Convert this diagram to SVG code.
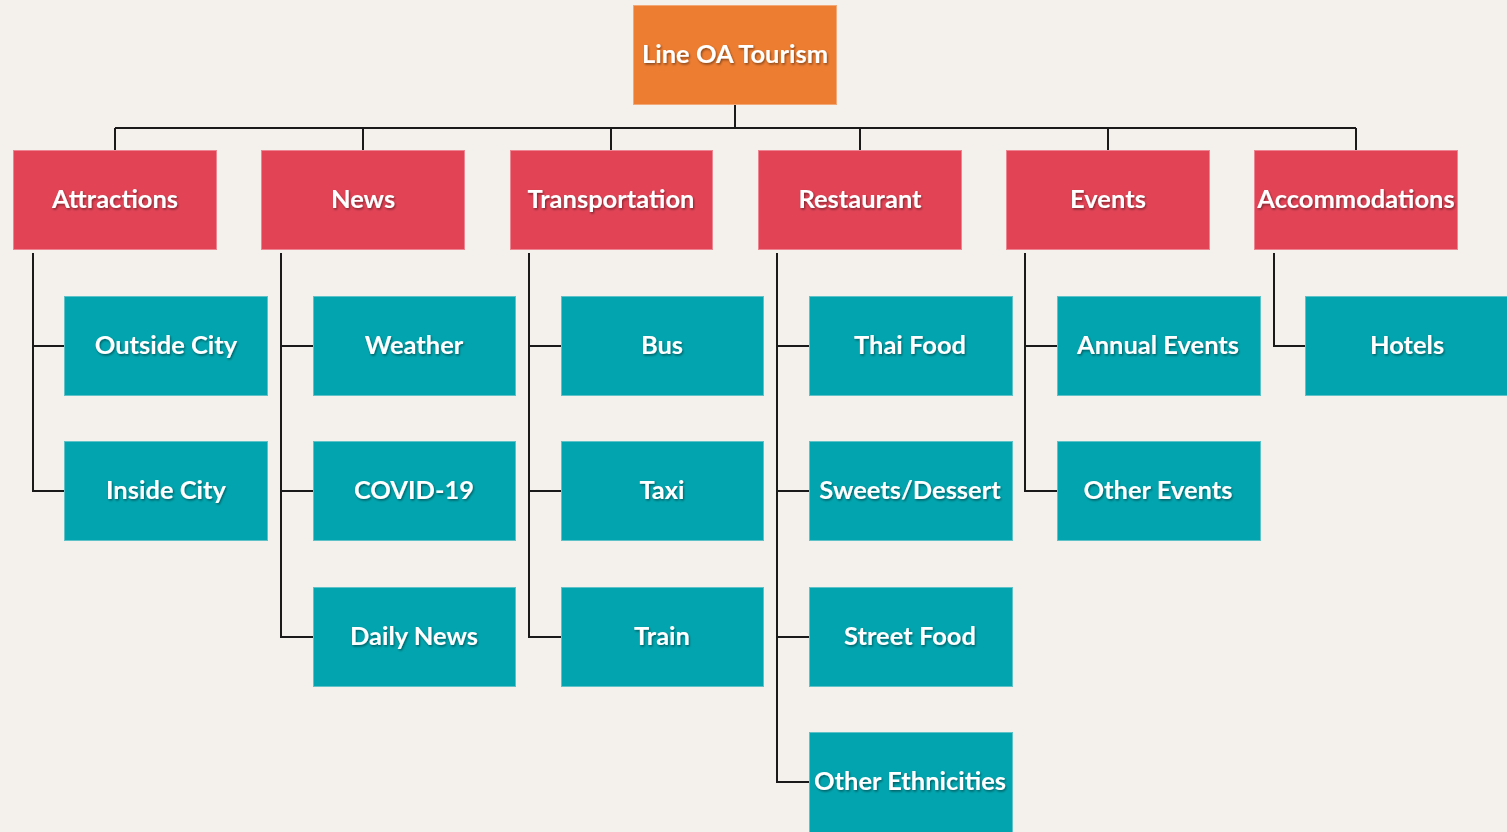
<svg xmlns="http://www.w3.org/2000/svg" width="1507" height="832" viewBox="0 0 1507 832">
  <defs>
    <filter id="shadow" x="-10%" y="-30%" width="120%" height="160%">
      <feDropShadow dx="1" dy="1.5" stdDeviation="1" flood-color="#000" flood-opacity="0.45"/>
    </filter>
    <style>
      .root { fill: #ED7D31; stroke: #F3A878; stroke-width: 1; }
      .cat { fill: #E24456; stroke: #EC8591; stroke-width: 1; }
      .leaf { fill: #02A5AF; stroke: #5FC2C8; stroke-width: 1; }
      .label { font-family: Lato, "Open Sans", "Liberation Sans", sans-serif; font-weight: bold; font-size: 25.5px; fill: #FFFFFF; text-anchor: middle; dominant-baseline: central; filter: url(#shadow); }
      .wire { fill: none; stroke: #1A1A1A; stroke-width: 2; }
    </style>
  </defs>
  <rect width="1507" height="832" fill="#F4F1EC"/>

  <g id="connectors">
    <path class="wire" d="M735 105 V128 M115 128 H1356 M115 128 V150 M363 128 V150 M611 128 V150 M860 128 V150 M1108 128 V150 M1356 128 V150"/>
    <path class="wire" d="M33 253 V491 H64 M33 346 H64"/>
    <path class="wire" d="M281 253 V637 H313 M281 346 H313 M281 491 H313"/>
    <path class="wire" d="M529 253 V637 H561 M529 346 H561 M529 491 H561"/>
    <path class="wire" d="M777 253 V782 H809 M777 346 H809 M777 491 H809 M777 637 H809"/>
    <path class="wire" d="M1025 253 V491 H1057 M1025 346 H1057"/>
    <path class="wire" d="M1274 253 V346 H1305"/>
  </g>

  <g id="root"><rect class="root" x="633.5" y="5.5" width="203" height="99"/><text class="label" x="735" y="53">Line OA Tourism</text></g>

  <g id="attractions"><rect class="cat" x="13.5" y="150.5" width="203" height="99"/><text class="label" x="115" y="198">Attractions</text></g>
  <g id="news"><rect class="cat" x="261.5" y="150.5" width="203" height="99"/><text class="label" x="363" y="198">News</text></g>
  <g id="transportation"><rect class="cat" x="510.5" y="150.5" width="202" height="99"/><text class="label" x="611" y="198">Transportation</text></g>
  <g id="restaurant"><rect class="cat" x="758.5" y="150.5" width="203" height="99"/><text class="label" x="860" y="198">Restaurant</text></g>
  <g id="events"><rect class="cat" x="1006.5" y="150.5" width="203" height="99"/><text class="label" x="1108" y="198">Events</text></g>
  <g id="accommodations"><rect class="cat" x="1254.5" y="150.5" width="203" height="99"/><text class="label" x="1356" y="198">Accommodations</text></g>

  <g id="outside-city"><rect class="leaf" x="64.5" y="296.5" width="203" height="99"/><text class="label" x="166" y="344">Outside City</text></g>
  <g id="inside-city"><rect class="leaf" x="64.5" y="441.5" width="203" height="99"/><text class="label" x="166" y="489">Inside City</text></g>

  <g id="weather"><rect class="leaf" x="313.5" y="296.5" width="202" height="99"/><text class="label" x="414" y="344">Weather</text></g>
  <g id="covid-19"><rect class="leaf" x="313.5" y="441.5" width="202" height="99"/><text class="label" x="414" y="489">COVID-19</text></g>
  <g id="daily-news"><rect class="leaf" x="313.5" y="587.5" width="202" height="99"/><text class="label" x="414" y="635">Daily News</text></g>

  <g id="bus"><rect class="leaf" x="561.5" y="296.5" width="202" height="99"/><text class="label" x="662" y="344">Bus</text></g>
  <g id="taxi"><rect class="leaf" x="561.5" y="441.5" width="202" height="99"/><text class="label" x="662" y="489">Taxi</text></g>
  <g id="train"><rect class="leaf" x="561.5" y="587.5" width="202" height="99"/><text class="label" x="662" y="635">Train</text></g>

  <g id="thai-food"><rect class="leaf" x="809.5" y="296.5" width="203" height="99"/><text class="label" x="910" y="344">Thai Food</text></g>
  <g id="sweets-dessert"><rect class="leaf" x="809.5" y="441.5" width="203" height="99"/><text class="label" x="910" y="489">Sweets/Dessert</text></g>
  <g id="street-food"><rect class="leaf" x="809.5" y="587.5" width="203" height="99"/><text class="label" x="910" y="635">Street Food</text></g>
  <g id="other-ethnicities"><rect class="leaf" x="809.5" y="732.5" width="203" height="101"/><text class="label" x="910" y="780">Other Ethnicities</text></g>

  <g id="annual-events"><rect class="leaf" x="1057.5" y="296.5" width="203" height="99"/><text class="label" x="1158" y="344">Annual Events</text></g>
  <g id="other-events"><rect class="leaf" x="1057.5" y="441.5" width="203" height="99"/><text class="label" x="1158" y="489">Other Events</text></g>

  <g id="hotels"><rect class="leaf" x="1305.5" y="296.5" width="203" height="99"/><text class="label" x="1407" y="344">Hotels</text></g>
</svg>
